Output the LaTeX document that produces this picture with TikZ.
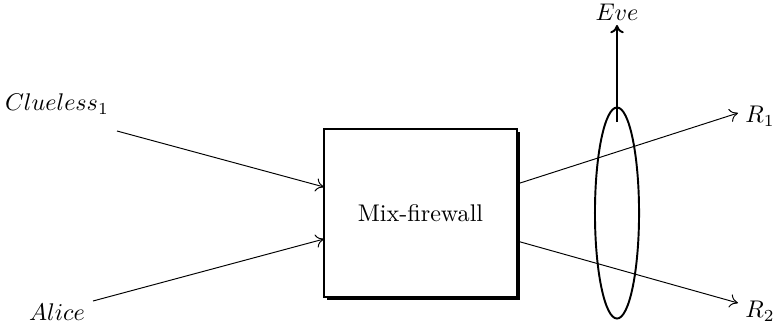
\documentclass[tikz,border=0pt]{standalone}
\usetikzlibrary{shapes.geometric,shadows,arrows.meta}
\begin{document}
\begin{tikzpicture}[x=0.415pt,y=-0.415pt,
  flow/.style={-{To[length=3.4pt,width=5.6pt]},line width=0.4pt},
  mixbox/.style={draw,line width=0.8pt,fill=white,minimum width=80pt,minimum height=69.7pt,inner sep=0pt,
    drop shadow={shadow xshift=1.2pt,shadow yshift=-1.2pt,fill=black,opacity=1}},
  lbl/.style={inner sep=0pt}]
\useasboundingbox (0,0) rectangle (776,328);
\node[mixbox] (box) at (420.5,213) {Mix-firewall};
\node[lbl] (clu) at (57,104) {$Clueless_1$};
\node[lbl] (alice) at (57,312) {$Alice$};
\node[lbl] (r1) at (760,116) {$R_1$};
\node[lbl] (r2) at (760,311) {$R_2$};
\node[lbl] (eve) at (617,12) {$Eve$};
\node[draw,ellipse,line width=0.8pt,minimum width=18.3pt,minimum height=87.6pt,inner sep=0pt] (ell) at (617,213) {};
\coordinate (c1s) at (117,131);
\coordinate (c1e) at (324,187);
\coordinate (a1s) at (93,301);
\coordinate (a1e) at (324,239);
\coordinate (o1s) at (517,184);
\coordinate (o1e) at (738,113);
\coordinate (o2s) at (517,241);
\coordinate (o2e) at (738,303);
\coordinate (evs) at (617,122);
\coordinate (eve2) at (617,25);
\draw[flow] (c1s) -- (c1e);
\draw[flow] (a1s) -- (a1e);
\draw[flow] (o1s) -- (o1e);
\draw[flow] (o2s) -- (o2e);
\draw[-{To[length=3.4pt,width=5.6pt]},line width=0.8pt] (evs) -- (eve2);
\end{tikzpicture}
\end{document}
